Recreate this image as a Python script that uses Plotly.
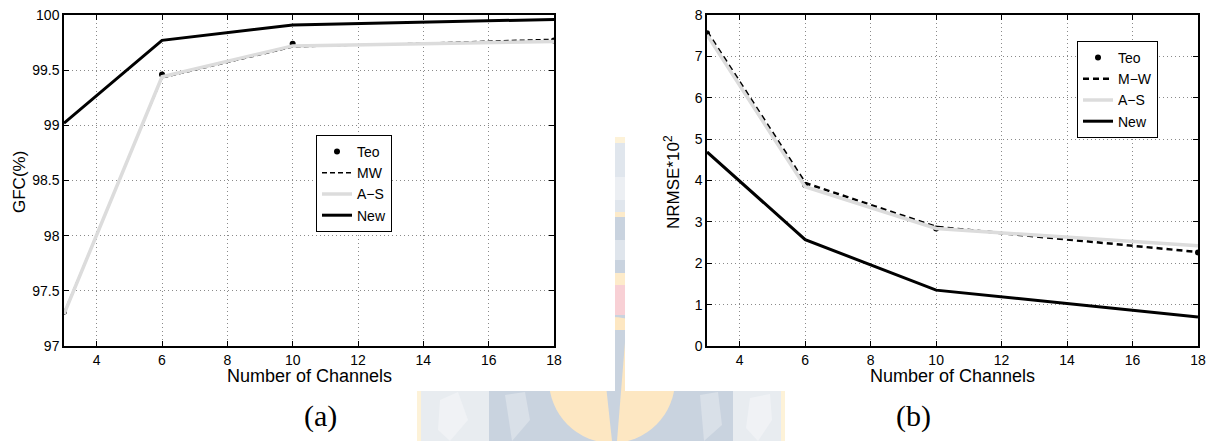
import plotly.graph_objects as go

W, H = 1214, 441

# ---- data -------------------------------------------------------------
channels = [3, 6, 10, 18]

gfc_teo = [97.31, 99.46, 99.74, 99.77]
gfc_mw = [97.30, 99.43, 99.71, 99.78]
gfc_as = [97.29, 99.44, 99.72, 99.76]
gfc_new = [99.02, 99.77, 99.91, 99.96]

nrmse_teo = [7.56, 3.89, 2.84, 2.26]
nrmse_mw = [7.60, 3.94, 2.88, 2.27]
nrmse_as = [7.52, 3.85, 2.84, 2.42]
nrmse_new = [4.69, 2.57, 1.35, 0.70]

legend_left = ["Teo", "MW", "A\u2212S", "New"]
legend_right = ["Teo", "M\u2212W", "A\u2212S", "New"]


def px(x):
    return x / W


def py(y):
    return 1 - y / H


fig = go.Figure()


def add_panel(xa, ya, leg, names, teo, mw, a_s, new, mw_width, mw_dash):
    fig.add_trace(go.Scatter(x=channels, y=teo, mode="markers", name=names[0],
                             marker=dict(color="black", size=6),
                             xaxis=xa, yaxis=ya, legend=leg))
    fig.add_trace(go.Scatter(x=channels, y=mw, mode="lines", name=names[1],
                             line=dict(color="black", width=mw_width, dash=mw_dash),
                             xaxis=xa, yaxis=ya, legend=leg))
    fig.add_trace(go.Scatter(x=channels, y=a_s, mode="lines", name=names[2],
                             line=dict(color="#dcdcdc", width=3.5),
                             xaxis=xa, yaxis=ya, legend=leg))
    fig.add_trace(go.Scatter(x=channels, y=new, mode="lines", name=names[3],
                             line=dict(color="black", width=3),
                             xaxis=xa, yaxis=ya, legend=leg))


add_panel("x", "y", "legend", legend_left, gfc_teo, gfc_mw, gfc_as, gfc_new,
          1.5, "5px,3px")
add_panel("x2", "y2", "legend2", legend_right, nrmse_teo, nrmse_mw, nrmse_as,
          nrmse_new, 2.5, "6px,4px")

axis_common = dict(showline=True, linecolor="black", linewidth=1.5,
                   mirror="ticks", ticks="inside", ticklen=5, tickwidth=1.2,
                   tickcolor="black", showgrid=True, gridcolor="#8a8a8a",
                   gridwidth=1, griddash="1px,3px", zeroline=False,
                   automargin=False, tickfont=dict(size=14, color="black"))

left_x = [px(64), px(554)]
right_x = [px(707), px(1198)]
plot_y = [py(346), py(15)]

legend_common = dict(xanchor="left", yanchor="top", bordercolor="black",
                     borderwidth=1, bgcolor="white",
                     font=dict(size=14, color="black"), itemwidth=30,
                     tracegroupgap=0)

fig.update_layout(
    width=W, height=H,
    margin=dict(l=0, r=0, t=0, b=0),
    paper_bgcolor="white", plot_bgcolor="white",
    font=dict(family="Liberation Sans, Arial, sans-serif", size=14, color="black"),
    xaxis=dict(domain=left_x, range=[3, 18], dtick=2, tick0=0, anchor="y", **axis_common),
    yaxis=dict(domain=plot_y, range=[97, 100], dtick=0.5, anchor="x", **axis_common),
    xaxis2=dict(domain=right_x, range=[3, 18], dtick=2, tick0=0, anchor="y2", **axis_common),
    yaxis2=dict(domain=plot_y, range=[0, 8], dtick=1, anchor="x2", **axis_common),
    legend=dict(x=px(316), y=py(135), **legend_common),
    legend2=dict(x=px(1077), y=py(41), **legend_common),
    showlegend=True,
)

# ---- titles and captions ----------------------------------------------
def label(text, x, y, size, angle=0, family=None):
    fig.add_annotation(text=text, x=px(x), y=py(y), xref="paper", yref="paper",
                       showarrow=False, textangle=angle, xanchor="center",
                       yanchor="middle",
                       font=dict(size=size, color="black",
                                 family=family or "Liberation Sans, Arial, sans-serif"))


label("Number of Channels", 309, 376, 18)
label("Number of Channels", 952, 376, 18)
label("GFC(%)", 19, 182, 17, angle=-90)
label("NRMSE*10<sup>2</sup>", 672, 182, 17, angle=-90)
label("(a)", 321, 416, 30, family="Liberation Serif, Times New Roman, serif")
label("(b)", 913, 416, 30, family="Liberation Serif, Times New Roman, serif")

# ---- faded crest in the background ------------------------------------
shapes = []


def rect(x0, y0, x1, y1, color):
    shapes.append(dict(type="rect", xref="paper", yref="paper", layer="below",
                       x0=px(x0), x1=px(x1), y0=py(y1), y1=py(y0),
                       fillcolor=color, line=dict(width=0)))


def circle(cx, cy, rx, ry, color):
    shapes.append(dict(type="circle", xref="paper", yref="paper", layer="below",
                       x0=px(cx - rx), x1=px(cx + rx), y0=py(cy + ry), y1=py(cy - ry),
                       fillcolor=color, line=dict(width=0)))


def poly(points, color):
    path = "M " + " L ".join(f"{px(x)},{py(y)}" for x, y in points) + " Z"
    shapes.append(dict(type="path", xref="paper", yref="paper", layer="below",
                       path=path, fillcolor=color, line=dict(width=0)))


# vertical strip between the panels
rect(615, 137, 625, 143, "#fdf2d8")
rect(615, 143, 625, 212, "#e0e6ed")
rect(615, 177, 625, 200, "#eceff3")
rect(615, 212, 625, 217, "#fdebca")
rect(615, 217, 625, 273, "#c9d3df")
rect(615, 240, 625, 260, "#dfe5ec")
rect(615, 273, 625, 285, "#fdebca")
rect(615, 285, 625, 315, "#f8d0d5")
rect(615, 315, 625, 391, "#c9d3df")
rect(615, 348, 625, 354, "#fdebca")

# lower band
rect(417, 391, 489, 441, "#e8ecf0")
rect(417, 391, 421, 441, "#fdf2d8")
rect(489, 391, 733, 441, "#c9d3df")
rect(733, 391, 785, 441, "#e8ecf0")
rect(781, 391, 785, 441, "#fdf2d8")
poly([(440, 400), (458, 392), (468, 420), (450, 441), (438, 430)], "#f0f2f5")
poly([(750, 398), (770, 394), (772, 420), (758, 441), (746, 428)], "#f0f2f5")
poly([(505, 395), (525, 392), (530, 420), (512, 441)], "#d9e0e8")
poly([(700, 395), (718, 392), (722, 425), (704, 441)], "#d9e0e8")
circle(612, 380, 63, 63, "#fde7c2")
poly([(600, 330), (626, 330), (617, 441), (612, 441)], "#c9d3df")

# white sheets carrying the two panels
rect(0, 0, 615, 391, "white")
rect(625, 0, W, 391, "white")

fig.update_layout(shapes=shapes)

fig.write_html("out.html")
